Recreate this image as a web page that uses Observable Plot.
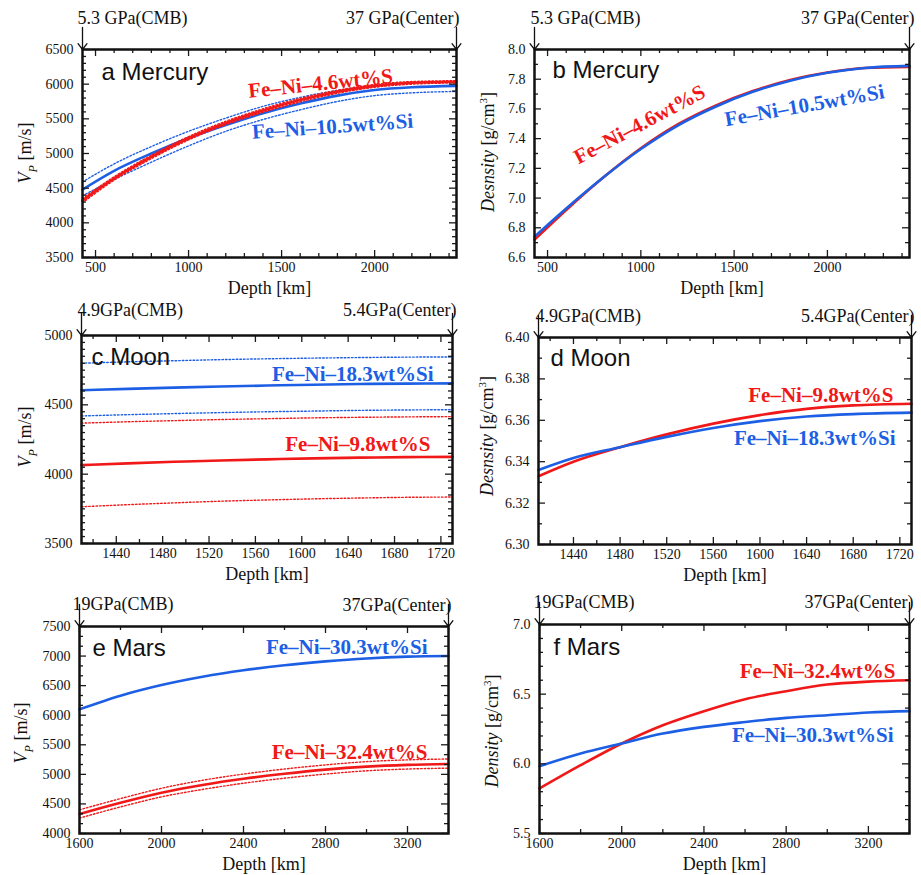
<!DOCTYPE html>
<html><head><meta charset="utf-8">
<script src="https://cdn.jsdelivr.net/npm/d3@7"></script>
<script src="https://cdn.jsdelivr.net/npm/@observablehq/plot@0.6"></script>
<style>
body{margin:0;background:#fff;}
#wrap{position:relative;width:921px;height:875px;background:#fff;overflow:hidden;}
#wrap svg{position:absolute;}
</style></head><body><div id="wrap"></div>
<script>
const RED = "#f01818", BLUE = "#1d5fe4";
const SERIF = "'Liberation Serif','Times New Roman',serif";
const SANS = "'Liberation Sans',Arial,sans-serif";

// ---- Mercury ----
const mercDepth = [430, 600, 800, 1000, 1200, 1400, 1600, 1800, 2000, 2200, 2440];
const mercVpS    = [4320, 4640, 4950, 5220, 5440, 5620, 5770, 5890, 5975, 6020, 6035];
const mercVpSHi  = [4350, 4665, 4975, 5245, 5465, 5645, 5795, 5912, 5995, 6038, 6050];
const mercVpSLo  = [4290, 4615, 4925, 5195, 5415, 5595, 5745, 5868, 5955, 6000, 6018];
const mercVpSi   = [4480, 4750, 5000, 5220, 5410, 5580, 5720, 5835, 5915, 5955, 5975];
const mercVpSiHi = [4590, 4850, 5100, 5320, 5510, 5680, 5810, 5910, 5980, 6020, 6035];
const mercVpSiLo = [4390, 4625, 4875, 5110, 5320, 5490, 5630, 5750, 5835, 5875, 5895];
const mercRhoS   = [6.72, 6.92, 7.14, 7.335, 7.497, 7.622, 7.72, 7.795, 7.845, 7.875, 7.882];
const mercRhoSi  = [6.74, 6.93, 7.14, 7.33, 7.49, 7.615, 7.715, 7.79, 7.843, 7.876, 7.89];

// ---- Moon ----
const moonDepthVp = [1410, 1450, 1490, 1530, 1570, 1610, 1650, 1690, 1730];
const moonVpSiHi = [4800, 4810, 4818, 4826, 4832, 4837, 4841, 4844, 4845];
const moonVpSi   = [4605, 4615, 4624, 4632, 4639, 4645, 4650, 4653, 4655];
const moonVpSiLo = [4420, 4429, 4437, 4444, 4450, 4455, 4460, 4463, 4465];
const moonVpSHi  = [4368, 4378, 4386, 4394, 4400, 4406, 4410, 4413, 4415];
const moonVpS    = [4065, 4078, 4089, 4099, 4107, 4114, 4119, 4123, 4125];
const moonVpSLo  = [3765, 3780, 3793, 3805, 3814, 3822, 3828, 3833, 3835];
const moonDepthRho = [1410, 1440, 1480, 1520, 1560, 1600, 1640, 1680, 1730];
const moonRhoS  = [6.3330, 6.3400, 6.3470, 6.3532, 6.3584, 6.3625, 6.3655, 6.3672, 6.3680];
const moonRhoSi = [6.3360, 6.3418, 6.3470, 6.3520, 6.3563, 6.3596, 6.3618, 6.3630, 6.3637];

// ---- Mars ----
const marsDepth = [1600, 1800, 2000, 2200, 2400, 2600, 2800, 3000, 3200, 3400];
const marsVpSi  = [6100, 6330, 6510, 6650, 6760, 6845, 6910, 6960, 6990, 7000];
const marsVpS   = [4330, 4520, 4690, 4820, 4925, 5010, 5080, 5130, 5160, 5175];
const marsVpSHi = [4400, 4590, 4765, 4900, 5005, 5090, 5160, 5215, 5245, 5260];
const marsVpSLo = [4260, 4450, 4620, 4745, 4850, 4935, 5005, 5060, 5090, 5105];
const marsRhoS  = [5.823, 5.99, 6.146, 6.277, 6.378, 6.464, 6.521, 6.569, 6.590, 6.600];
const marsRhoSi = [5.983, 6.074, 6.146, 6.217, 6.265, 6.300, 6.330, 6.349, 6.368, 6.378];

// ---- ticks ----
const mercDepthTicks = [500, 1000, 1500, 2000];
const moonDepthTicks = [1440, 1480, 1520, 1560, 1600, 1640, 1680, 1720];
const marsDepthTicks = [1600, 2000, 2400, 2800, 3200];
const mercVpTicks = [3500, 4000, 4500, 5000, 5500, 6000, 6500];
const mercRhoTicks = [6.6, 6.8, 7.0, 7.2, 7.4, 7.6, 7.8, 8.0];
const moonVpTicks = [3500, 4000, 4500, 5000];
const moonRhoTicks = [6.30, 6.32, 6.34, 6.36, 6.38, 6.40];
const marsVpTicks = [4000, 4500, 5000, 5500, 6000, 6500, 7000, 7500];
const marsRhoTicks = [5.5, 6.0, 6.5, 7.0];

const wrap = document.getElementById("wrap");

function makePanel(p) {
  const {box, frame, xDomain, yDomain, xTicks, xStep, yTicks, yStep, yFmt, series, labels, title, notes, ylab} = p;
  const mL = frame.L - box.left, mR = box.left + box.width - frame.R;
  const mT = frame.T - box.top, mB = box.top + box.height - frame.B;
  const iw = frame.R - frame.L, ih = frame.B - frame.T;
  const near = (a, arr) => arr.some(v => Math.abs(v - a) < 1e-6 * Math.max(1, Math.abs(v)));
  const xMinor = d3.range(Math.ceil(xDomain[0] / xStep) * xStep, xDomain[1] + 1e-9, xStep).filter(v => !near(v, xTicks));
  const yMinor = d3.range(0, Math.round((yDomain[1] - yDomain[0]) / yStep) + 1).map(i => yDomain[0] + i * yStep).filter(v => !near(v, yTicks));
  const TK = {stroke: "#1a1a1a", strokeWidth: 1.3};
  const marks = [];
  for (const s of series) {
    marks.push(Plot.line(s.x.map((x, i) => ({x, y: s.y[i]})), {
      x: "x", y: "y", stroke: s.color,
      strokeWidth: s.dotted ? 1.4 : 2.6,
      strokeDasharray: s.dotted ? "1.6,2" : null,
      curve: "monotone-x"
    }));
  }
  marks.push(Plot.tickX(xTicks, {x: d => d, insetTop: ih - 7, ...TK}));
  marks.push(Plot.tickX(xTicks, {x: d => d, insetBottom: ih - 7, ...TK}));
  marks.push(Plot.tickX(xMinor, {x: d => d, insetTop: ih - 4, ...TK}));
  marks.push(Plot.tickX(xMinor, {x: d => d, insetBottom: ih - 4, ...TK}));
  marks.push(Plot.tickY(yTicks, {y: d => d, insetRight: iw - 7, ...TK}));
  marks.push(Plot.tickY(yTicks, {y: d => d, insetLeft: iw - 7, ...TK}));
  marks.push(Plot.tickY(yMinor, {y: d => d, insetRight: iw - 4, ...TK}));
  marks.push(Plot.tickY(yMinor, {y: d => d, insetLeft: iw - 4, ...TK}));
  marks.push(Plot.axisX({ticks: xTicks, anchor: "bottom", tickSize: 0, tickPadding: 5, tickFormat: d => String(d), label: null}));
  marks.push(Plot.axisY({ticks: yTicks, anchor: "left", tickSize: 0, tickPadding: 9, tickFormat: yFmt, label: null}));
  marks.push(Plot.frame({stroke: "#111", strokeWidth: 2.5}));
  const tx = (str, ax, ay, o) => Plot.text([str], {text: d => d, frameAnchor: "top-left", dx: ax - frame.L, dy: ay - frame.T, lineAnchor: "middle", ...o});
  marks.push(tx("Depth [km]", (frame.L + frame.R) / 2, frame.B + 31, {textAnchor: "middle", fontSize: 18, fill: "#111"}));
  marks.push(tx(title.text, title.x, title.y, {textAnchor: "start", fontSize: 24, fontFamily: SANS, fill: "#111"}));
  marks.push(tx(notes.left, notes.lx, notes.ly, {textAnchor: "start", fontSize: 18, fill: "#111"}));
  marks.push(tx(notes.right, notes.rx, notes.ry, {textAnchor: "end", fontSize: 18, fill: "#111"}));
  const ySpan = yDomain[1] - yDomain[0];
  marks.push(Plot.arrow(xDomain, {x1: d => d, x2: d => d, y1: () => yDomain[1] + ySpan * 22 / ih, y2: () => yDomain[1], stroke: "#111", strokeWidth: 1.3, headLength: 10, headAngle: 75}));
  for (const l of labels) {
    marks.push(tx(l.text, l.x, l.y, {textAnchor: l.anchor || "middle", fontSize: 21, fontWeight: "bold", fill: l.color, rotate: l.rotate || 0}));
  }
  const svg = Plot.plot({
    width: box.width, height: box.height,
    marginLeft: mL, marginRight: mR, marginTop: mT, marginBottom: mB,
    x: {domain: xDomain}, y: {domain: yDomain},
    style: {fontFamily: SERIF, fontSize: "14px", background: "transparent", overflow: "visible", color: "#111"},
    marks
  });
  svg.style.position = "absolute";
  svg.style.left = box.left + "px";
  svg.style.top = box.top + "px";
  svg.style.background = "transparent";
  svg.style.overflow = "visible";
  svg.style.maxWidth = "none";
  const t = d3.select(svg).append("text")
    .attr("transform", `translate(${ylab.x - box.left},${ylab.y - box.top}) rotate(-90)`)
    .attr("text-anchor", "middle").attr("dy", "0.35em")
    .style("font-family", SERIF).style("font-size", "18px").attr("fill", "#111");
  for (const part of ylab.parts) {
    const ts = t.append("tspan").text(part.t);
    if (part.italic) ts.attr("font-style", "italic");
    if (part.size) ts.attr("font-size", part.size);
    if (part.dy) ts.attr("dy", part.dy);
  }
  wrap.appendChild(svg);
}

const vpLabel = (x, y) => ({x, y, parts: [{t: "V", italic: true}, {t: "P", italic: true, size: "12px", dy: "6"}, {t: " [m/s]", dy: "-6"}]});
const rhoLabel = (x, y, word) => ({x, y, parts: [{t: word, italic: true}, {t: " [g/cm"}, {t: "3", size: "11px", dy: "-7"}, {t: "]", dy: "7"}]});

makePanel({
  box: {left: 0, top: 0, width: 460, height: 300},
  frame: {L: 82, R: 456, T: 49, B: 257},
  xDomain: [430, 2440], yDomain: [3500, 6500],
  xTicks: mercDepthTicks, xStep: 100, yTicks: mercVpTicks, yStep: 100, yFmt: d3.format("d"),
  series: [
    {x: mercDepth, y: mercVpSiHi, color: BLUE, dotted: true},
    {x: mercDepth, y: mercVpSiLo, color: BLUE, dotted: true},
    {x: mercDepth, y: mercVpSi, color: BLUE},
    {x: mercDepth, y: mercVpSHi, color: RED, dotted: true},
    {x: mercDepth, y: mercVpSLo, color: RED, dotted: true},
    {x: mercDepth, y: mercVpS, color: RED}
  ],
  labels: [
    {text: "Fe–Ni–4.6wt%S", x: 320, y: 83, color: RED, rotate: -6},
    {text: "Fe–Ni–10.5wt%Si", x: 332, y: 126, color: BLUE, rotate: -4}
  ],
  title: {text: "a Mercury", x: 101, y: 72},
  notes: {left: "5.3 GPa(CMB)", lx: 77, ly: 18, right: "37 GPa(Center)", rx: 459, ry: 18},
  ylab: vpLabel(25, 153)
});

makePanel({
  box: {left: 460, top: 0, width: 461, height: 300},
  frame: {L: 534, R: 909, T: 49, B: 257},
  xDomain: [430, 2440], yDomain: [6.6, 8.0],
  xTicks: mercDepthTicks, xStep: 100, yTicks: mercRhoTicks, yStep: 0.1, yFmt: d3.format(".1f"),
  series: [
    {x: mercDepth, y: mercRhoS, color: RED},
    {x: mercDepth, y: mercRhoSi, color: BLUE}
  ],
  labels: [
    {text: "Fe–Ni–4.6wt%S", x: 639, y: 124, color: RED, rotate: -28},
    {text: "Fe–Ni–10.5wt%Si", x: 804, y: 105, color: BLUE, rotate: -10}
  ],
  title: {text: "b Mercury", x: 552, y: 70},
  notes: {left: "5.3 GPa(CMB)", lx: 530, ly: 18, right: "37 GPa(Center)", rx: 914, ry: 18},
  ylab: rhoLabel(488, 152, "Desnsity")
});

makePanel({
  box: {left: 0, top: 290, width: 460, height: 295},
  frame: {L: 81, R: 452, T: 335, B: 543},
  xDomain: [1410, 1730], yDomain: [3500, 5000],
  xTicks: moonDepthTicks, xStep: 20, yTicks: moonVpTicks, yStep: 50, yFmt: d3.format("d"),
  series: [
    {x: moonDepthVp, y: moonVpSiHi, color: BLUE, dotted: true},
    {x: moonDepthVp, y: moonVpSiLo, color: BLUE, dotted: true},
    {x: moonDepthVp, y: moonVpSi, color: BLUE},
    {x: moonDepthVp, y: moonVpSHi, color: RED, dotted: true},
    {x: moonDepthVp, y: moonVpSLo, color: RED, dotted: true},
    {x: moonDepthVp, y: moonVpS, color: RED}
  ],
  labels: [
    {text: "Fe–Ni–18.3wt%Si", x: 433, y: 374, color: BLUE, anchor: "end"},
    {text: "Fe–Ni–9.8wt%S", x: 430, y: 444, color: RED, anchor: "end"}
  ],
  title: {text: "c Moon", x: 91, y: 357},
  notes: {left: "4.9GPa(CMB)", lx: 77, ly: 310, right: "5.4GPa(Center)", rx: 456, ry: 310},
  ylab: vpLabel(25, 437)
});

makePanel({
  box: {left: 460, top: 290, width: 461, height: 295},
  frame: {L: 538, R: 911, T: 337, B: 544},
  xDomain: [1410, 1730], yDomain: [6.30, 6.40],
  xTicks: moonDepthTicks, xStep: 20, yTicks: moonRhoTicks, yStep: 0.01, yFmt: d3.format(".2f"),
  series: [
    {x: moonDepthRho, y: moonRhoS, color: RED},
    {x: moonDepthRho, y: moonRhoSi, color: BLUE}
  ],
  labels: [
    {text: "Fe–Ni–9.8wt%S", x: 893, y: 395, color: RED, anchor: "end"},
    {text: "Fe–Ni–18.3wt%Si", x: 895, y: 438, color: BLUE, anchor: "end"}
  ],
  title: {text: "d Moon", x: 550, y: 358},
  notes: {left: "4.9GPa(CMB)", lx: 535, ly: 316, right: "5.4GPa(Center)", rx: 914, ry: 316},
  ylab: rhoLabel(487, 436, "Desnsity")
});

makePanel({
  box: {left: 0, top: 580, width: 460, height: 295},
  frame: {L: 79, R: 448, T: 626, B: 833},
  xDomain: [1600, 3400], yDomain: [4000, 7500],
  xTicks: marsDepthTicks, xStep: 200, yTicks: marsVpTicks, yStep: 500 / 3, yFmt: d3.format("d"),
  series: [
    {x: marsDepth, y: marsVpSi, color: BLUE},
    {x: marsDepth, y: marsVpSHi, color: RED, dotted: true},
    {x: marsDepth, y: marsVpSLo, color: RED, dotted: true},
    {x: marsDepth, y: marsVpS, color: RED}
  ],
  labels: [
    {text: "Fe–Ni–30.3wt%Si", x: 427, y: 647, color: BLUE, anchor: "end"},
    {text: "Fe–Ni–32.4wt%S", x: 427, y: 752, color: RED, anchor: "end"}
  ],
  title: {text: "e Mars", x: 92, y: 648},
  notes: {left: "19GPa(CMB)", lx: 72, ly: 604, right: "37GPa(Center)", rx: 451, ry: 605},
  ylab: vpLabel(21, 733)
});

makePanel({
  box: {left: 460, top: 580, width: 461, height: 295},
  frame: {L: 539, R: 909, T: 624, B: 833},
  xDomain: [1600, 3400], yDomain: [5.5, 7.0],
  xTicks: marsDepthTicks, xStep: 200, yTicks: marsRhoTicks, yStep: 0.1, yFmt: d3.format(".1f"),
  series: [
    {x: marsDepth, y: marsRhoS, color: RED},
    {x: marsDepth, y: marsRhoSi, color: BLUE}
  ],
  labels: [
    {text: "Fe–Ni–32.4wt%S", x: 895, y: 671, color: RED, anchor: "end"},
    {text: "Fe–Ni–30.3wt%Si", x: 893, y: 735, color: BLUE, anchor: "end"}
  ],
  title: {text: "f Mars", x: 553, y: 647},
  notes: {left: "19GPa(CMB)", lx: 533, ly: 602, right: "37GPa(Center)", rx: 913, ry: 602},
  ylab: rhoLabel(492, 731, "Density")
});
</script></body></html>
